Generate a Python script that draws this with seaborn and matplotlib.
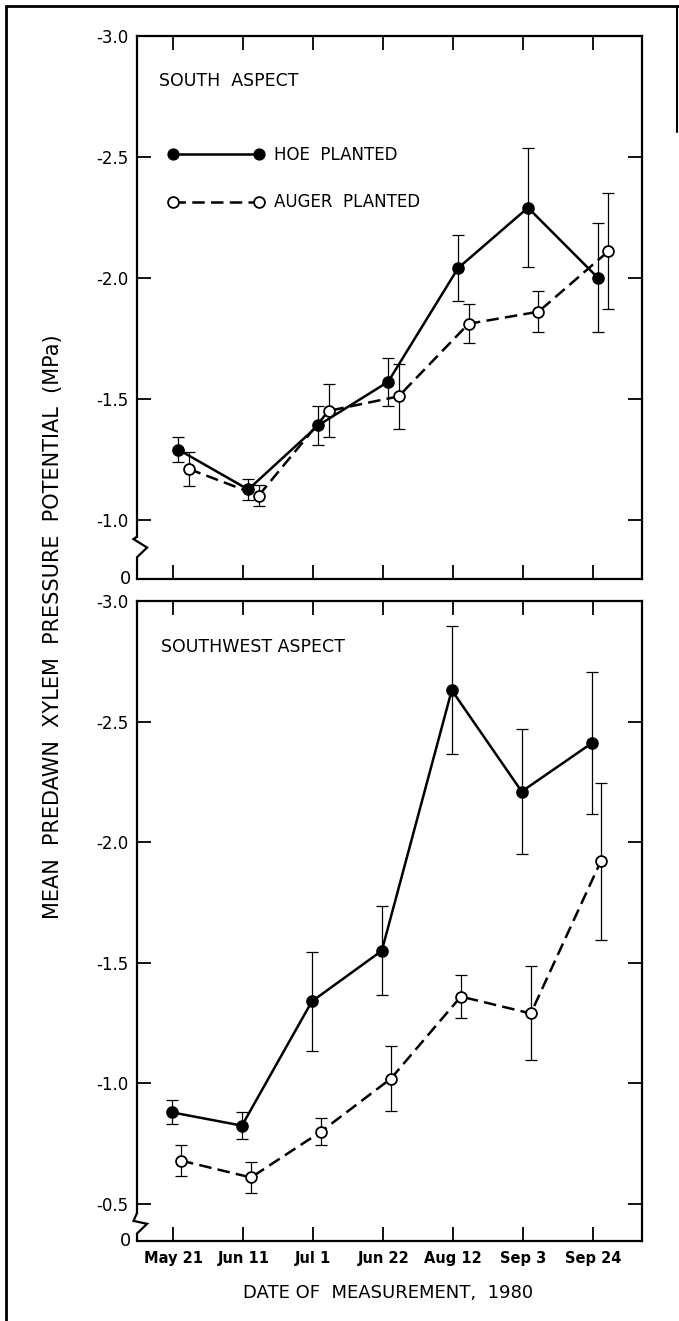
import matplotlib
matplotlib.use('Agg')
import matplotlib.pyplot as plt
from matplotlib.lines import Line2D
from matplotlib.ticker import FormatStrFormatter
import numpy as np
import pandas as pd
import seaborn as sns

dates = ['May 21', 'Jun 11', 'Jul 1', 'Jun 22', 'Aug 12', 'Sep 3', 'Sep 24']

# south aspect, MPa
south_hoe = [-1.29, -1.125, -1.39, -1.57, -2.04, -2.29, -2.00]
south_hoe_err = [0.05, 0.045, 0.08, 0.10, 0.135, 0.245, 0.225]
south_auger = [-1.21, -1.10, -1.45, -1.51, -1.81, -1.86, -2.11]
south_auger_err = [0.07, 0.045, 0.11, 0.135, 0.08, 0.085, 0.24]

# southwest aspect, MPa
sw_hoe = [-0.88, -0.825, -1.34, -1.55, -2.63, -2.21, -2.41]
sw_hoe_err = [0.05, 0.057, 0.205, 0.185, 0.265, 0.26, 0.295]
sw_auger = [-0.68, -0.61, -0.80, -1.02, -1.36, -1.29, -1.92]
sw_auger_err = [0.063, 0.063, 0.055, 0.135, 0.09, 0.195, 0.325]

sns.set_style('white')
plt.rcParams['font.family'] = ['DejaVu Sans']
plt.rcParams['axes.unicode_minus'] = False
for k in ['text.color', 'axes.labelcolor', 'xtick.color', 'ytick.color']:
    plt.rcParams[k] = 'black'

LW = 1.8
DASH = (0, (5, 2.5))
MS = 7.8

fig = plt.figure(figsize=(6.79, 13.21), dpi=100)
ax_top = fig.add_axes([0.2018, 0.5617, 0.7437, 0.4111])
ax_bot = fig.add_axes([0.2018, 0.0606, 0.7437, 0.4845])


def draw_panel(ax, hoe, hoe_err, auger, auger_err, dodge, ymin, ticks, brk):
    x = np.arange(len(dates))
    df = pd.DataFrame({
        'x': np.concatenate([x + dodge[0], x + dodge[1]]),
        'value': hoe + auger,
        'err': hoe_err + auger_err,
        'method': ['hoe'] * len(dates) + ['auger'] * len(dates),
    })
    for m, ls, fc in [('hoe', '-', 'black'), ('auger', DASH, 'white')]:
        d = df[df['method'] == m]
        ax.errorbar(d['x'], d['value'], yerr=d['err'], fmt='none', ecolor='black',
                    elinewidth=0.9, capsize=4.5, capthick=0.9, zorder=2)
        sns.lineplot(data=d, x='x', y='value', ax=ax, color='black', lw=LW,
                     linestyle=ls, marker='o', markersize=MS, markerfacecolor=fc,
                     markeredgecolor='black', markeredgewidth=1.3, sort=False,
                     estimator=None, legend=False, zorder=3)
    ax.set_xlim(-0.52, 6.7)
    ax.set_ylim(ymin, -3.0)
    ax.set_yticks(ticks)
    ax.yaxis.set_major_formatter(FormatStrFormatter('%.1f'))
    ax.set_xticks(x)
    ax.set_xlabel('')
    ax.set_ylabel('')
    for s in ax.spines.values():
        s.set_linewidth(1.6)
        s.set_color('black')
    ax.tick_params(axis='y', direction='in', length=10, width=1.3, left=True,
                   right=True, labelsize=12, pad=6)
    ax.tick_params(axis='x', direction='in', length=10, width=1.3, top=True,
                   bottom=True, labelsize=10.5, pad=7)
    # broken left spine
    ax.spines['left'].set_bounds(-3.0, brk[0])
    tr = ax.get_yaxis_transform()
    ax.plot([0, -0.007, 0.02, 0, 0], [brk[0], brk[1], brk[2], brk[3], ymin],
            transform=tr, color='black', lw=1.6, clip_on=False,
            solid_joinstyle='miter')
    ax.text(-0.012, ymin, '0', transform=tr, ha='right', va='center', fontsize=13)


draw_panel(ax_top, south_hoe, south_hoe_err, south_auger, south_auger_err,
           (0.07, 0.22), -0.755, [-1.0, -1.5, -2.0, -2.5, -3.0],
           (-0.93, -0.92, -0.885, -0.845))
draw_panel(ax_bot, sw_hoe, sw_hoe_err, sw_auger, sw_auger_err,
           (-0.02, 0.11), -0.347, [-0.5, -1.0, -1.5, -2.0, -2.5, -3.0],
           (-0.463, -0.43, -0.418, -0.378))

ax_top.tick_params(axis='x', labelbottom=False)
ax_bot.set_xticklabels(dates, fontweight='bold')

ax_top.text(0.0436, 0.917, 'SOUTH  ASPECT', transform=ax_top.transAxes,
            ha='left', va='center', fontsize=12.5)
ax_bot.text(0.0475, 0.928, 'SOUTHWEST ASPECT', transform=ax_bot.transAxes,
            ha='left', va='center', fontsize=12.5)

handles = [
    Line2D([], [], color='black', lw=LW, marker='o', markersize=MS,
           markerfacecolor='black', markeredgecolor='black'),
    Line2D([], [], color='black', lw=LW, linestyle=DASH, marker='o', markersize=MS,
           markerfacecolor='white', markeredgecolor='black', markeredgewidth=1.3),
]
ax_top.legend(handles, ['HOE  PLANTED', 'AUGER  PLANTED'], loc='upper left',
              bbox_to_anchor=(0.061, 0.797), numpoints=2, frameon=False,
              handlelength=5.8, handletextpad=0.55, labelspacing=1.75,
              borderpad=0, borderaxespad=0, fontsize=12)

fig.text(53 / 679, 1 - 627 / 1321, 'MEAN  PREDAWN  XYLEM  PRESSURE  POTENTIAL  (MPa)',
         rotation=90, ha='center', va='center', fontsize=15)
fig.text(388 / 679, 1 - 1293 / 1321, 'DATE OF  MEASUREMENT,  1980',
         ha='center', va='center', fontsize=13)

# page frame from the scan
fig.add_artist(Line2D([6 / 679, 6 / 679], [0, 1 - 6 / 1321], transform=fig.transFigure,
                      color='black', lw=2))
fig.add_artist(Line2D([6 / 679, 1], [1 - 6 / 1321, 1 - 6 / 1321],
                      transform=fig.transFigure, color='black', lw=2))
fig.add_artist(Line2D([677 / 679, 677 / 679], [1 - 6 / 1321, 1 - 132 / 1321],
                      transform=fig.transFigure, color='black', lw=1.5))

fig.savefig('out.png', dpi=100, facecolor='white')
